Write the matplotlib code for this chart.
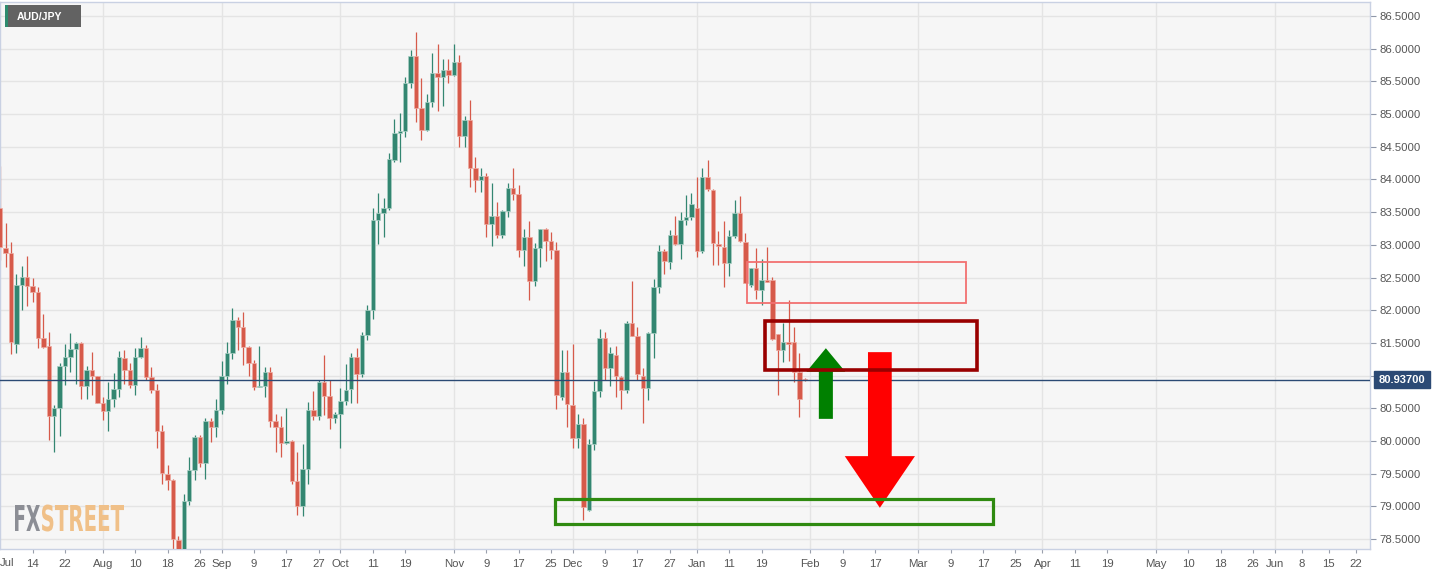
import matplotlib
matplotlib.use('Agg')
import matplotlib.pyplot as plt
import matplotlib.patches as mpatches
import matplotlib.transforms as mtransforms
from matplotlib.textpath import TextPath
from matplotlib.font_manager import FontProperties
import numpy as np
import pandas as pd

# daily AUD/JPY candles, first visible bar = 2021-07-06
first_day = '2021-07-06'
opens = [83.56, 82.96, 82.87, 81.48, 82.39, 82.51, 82.37, 82.28, 81.57, 81.46,
         80.38, 80.51, 81.15, 81.28, 81.41, 81.50, 80.85, 81.08, 80.99, 80.59,
         80.46, 80.65, 80.80, 81.27, 81.09, 80.86, 81.28, 81.43, 80.98, 80.78,
         80.15, 79.49, 79.41, 78.48, 78.10, 79.09, 79.56, 80.07, 79.67, 80.31,
         80.21, 80.48, 81.00, 81.35, 81.85, 81.74, 81.44, 81.20, 80.83, 80.85,
         81.05, 80.31, 80.21, 79.97, 80.00, 79.39, 79.00, 79.57, 80.48, 80.39,
         80.90, 80.69, 80.35, 80.42, 80.62, 80.80, 81.28, 81.02, 81.62, 82.01,
         83.38, 83.49, 83.57, 84.30, 84.71, 84.74, 85.47, 85.89, 85.10, 84.75,
         85.18, 85.63, 85.56, 85.68, 85.60, 85.80, 84.67, 84.91, 84.18, 83.99,
         84.05, 83.32, 83.44, 83.15, 83.52, 83.87, 83.78, 82.92, 83.12, 82.45,
         82.95, 83.24, 83.06, 82.92, 80.67, 81.05, 80.55, 80.04, 80.26, 78.95,
         79.96, 80.77, 81.57, 81.11, 81.32, 80.98, 80.78, 81.80, 81.61, 81.00,
         80.81, 81.65, 82.36, 82.91, 82.74, 83.15, 83.01, 83.38, 83.43, 83.56,
         82.91, 84.04, 83.84, 83.02, 82.97, 82.72, 83.13, 83.49, 83.05, 82.39,
         82.64, 82.31, 82.47, 82.46, 81.63, 81.39, 81.51, 81.51, 81.06, 80.94]
highs = [84.20, 83.34, 83.05, 82.56, 82.67, 82.83, 82.49, 82.35, 81.94, 81.67,
         80.55, 81.19, 81.48, 81.66, 81.51, 81.51, 81.15, 81.36, 81.00, 80.68,
         80.91, 81.04, 81.37, 81.40, 81.19, 81.42, 81.59, 81.47, 81.14, 80.88,
         80.24, 79.63, 79.42, 78.55, 79.19, 79.75, 80.09, 80.09, 80.35, 80.35,
         80.65, 81.23, 81.52, 82.03, 81.90, 81.98, 81.45, 81.24, 81.45, 81.14,
         81.14, 80.42, 80.38, 80.51, 80.02, 79.84, 79.96, 80.60, 80.77, 80.94,
         81.31, 80.93, 80.45, 80.81, 81.18, 81.34, 81.42, 81.67, 82.08, 83.56,
         83.80, 83.71, 84.40, 84.93, 85.02, 85.56, 85.98, 86.25, 85.55, 85.31,
         85.93, 86.07, 85.84, 85.84, 86.07, 85.91, 84.97, 85.22, 84.35, 84.17,
         84.10, 83.95, 83.66, 83.53, 83.94, 84.17, 83.92, 83.25, 83.37, 83.03,
         83.25, 83.26, 83.20, 83.05, 81.40, 81.40, 81.48, 80.42, 80.36, 80.03,
         80.92, 81.72, 81.67, 81.44, 81.45, 80.99, 81.83, 82.45, 81.75, 81.11,
         81.67, 82.48, 83.00, 82.93, 83.23, 83.44, 83.51, 83.76, 83.79, 84.04,
         84.17, 84.30, 83.85, 83.21, 83.37, 83.23, 83.68, 83.74, 83.18, 82.64,
         82.96, 82.79, 82.97, 82.51, 81.63, 81.80, 82.15, 81.75, 81.34, 80.96]
lows = [82.77, 82.66, 81.33, 81.34, 82.01, 82.06, 82.13, 81.43, 81.43, 80.02,
        79.84, 80.08, 80.86, 81.05, 80.88, 80.64, 80.64, 80.71, 80.58, 80.33,
        80.15, 80.52, 80.67, 80.88, 80.81, 80.71, 81.27, 80.94, 80.74, 79.89,
        79.35, 79.25, 78.30, 77.90, 78.00, 79.02, 79.41, 79.60, 79.42, 79.99,
        80.07, 80.42, 80.88, 81.25, 81.39, 81.16, 80.99, 80.78, 80.82, 80.68,
        80.22, 79.84, 79.76, 79.96, 79.35, 78.87, 78.86, 79.35, 80.32, 80.32,
        80.40, 80.18, 80.28, 79.90, 80.55, 80.58, 80.58, 80.98, 81.55, 81.86,
        83.01, 83.12, 83.53, 84.27, 84.27, 84.65, 85.40, 84.88, 84.61, 84.74,
        85.11, 85.04, 85.12, 85.48, 85.59, 84.49, 84.50, 83.89, 83.81, 83.81,
        83.12, 82.99, 83.10, 83.10, 83.43, 83.69, 82.82, 82.68, 82.15, 82.37,
        82.66, 82.76, 82.78, 80.49, 80.63, 80.22, 79.90, 79.90, 78.80, 78.93,
        79.86, 80.68, 80.93, 80.84, 80.68, 80.49, 80.73, 81.60, 80.94, 80.27,
        80.63, 81.27, 82.26, 82.55, 82.63, 83.00, 82.79, 83.31, 83.38, 82.82,
        82.87, 83.83, 82.69, 82.69, 82.35, 82.52, 83.10, 83.05, 82.41, 82.36,
        82.17, 82.08, 82.43, 81.55, 80.70, 81.21, 81.23, 80.91, 80.37, 80.92]
closes = [82.97, 82.88, 81.51, 82.39, 82.51, 82.37, 82.28, 81.57, 81.44, 80.38,
          80.51, 81.15, 81.28, 81.41, 81.50, 80.85, 81.08, 80.99, 80.59, 80.46,
          80.65, 80.80, 81.28, 81.09, 80.86, 81.28, 81.43, 80.98, 80.78, 80.15,
          79.51, 79.41, 78.50, 78.10, 79.09, 79.56, 80.07, 79.67, 80.31, 80.21,
          80.48, 81.00, 81.35, 81.85, 81.75, 81.44, 81.20, 80.83, 80.85, 81.05,
          80.31, 80.21, 79.97, 80.00, 79.39, 79.01, 79.57, 80.48, 80.39, 80.90,
          80.69, 80.35, 80.42, 80.62, 80.78, 81.28, 81.02, 81.62, 82.01, 83.38,
          83.49, 83.57, 84.31, 84.71, 84.74, 85.47, 85.89, 85.10, 84.75, 85.18,
          85.63, 85.56, 85.68, 85.60, 85.80, 84.67, 84.91, 84.18, 83.99, 84.05,
          83.32, 83.44, 83.15, 83.52, 83.87, 83.78, 82.92, 83.12, 82.45, 82.95,
          83.24, 83.06, 82.92, 80.71, 81.05, 80.57, 80.04, 80.26, 78.99, 79.96,
          80.77, 81.57, 81.11, 81.34, 80.99, 80.78, 81.80, 81.61, 81.03, 80.81,
          81.65, 82.36, 82.91, 82.76, 83.15, 83.01, 83.38, 83.43, 83.63, 82.91,
          84.04, 83.85, 83.03, 82.99, 82.72, 83.13, 83.49, 83.06, 82.41, 82.64,
          82.31, 82.47, 82.44, 81.56, 81.39, 81.51, 81.49, 81.06, 80.64, 80.937]

# x axis tick labels (dates + text)
tick_dates = ['2021-07-14', '2021-07-22', '2021-08-02', '2021-08-10', '2021-08-18',
              '2021-08-26', '2021-09-01', '2021-09-09', '2021-09-17', '2021-09-27',
              '2021-10-01', '2021-10-11', '2021-10-19', '2021-11-01', '2021-11-09',
              '2021-11-17', '2021-11-25', '2021-12-01', '2021-12-09', '2021-12-17',
              '2021-12-27', '2022-01-03', '2022-01-11', '2022-01-19', '2022-02-01',
              '2022-02-09', '2022-02-17', '2022-03-01', '2022-03-09', '2022-03-17',
              '2022-03-25', '2022-04-01', '2022-04-11', '2022-04-19', '2022-05-02',
              '2022-05-10', '2022-05-18', '2022-05-26', '2022-06-01', '2022-06-08',
              '2022-06-15', '2022-06-22']
tick_labels = ['14', '22', 'Aug', '10', '18', '26', 'Sep', '9', '17', '27',
               'Oct', '11', '19', 'Nov', '9', '17', '25', 'Dec', '9', '17',
               '27', 'Jan', '11', '19', 'Feb', '9', '17', 'Mar', '9', '17',
               '25', 'Apr', '11', '19', 'May', '10', '18', '26', 'Jun', '8',
               '15', '22']
y_ticks = [78.5, 79.0, 79.5, 80.0, 80.5, 81.0, 81.5, 82.0, 82.5, 83.0,
           83.5, 84.0, 84.5, 85.0, 85.5, 86.0, 86.5]

# zones drawn on the chart: (start bar, end bar, low, high)
pink_zone = (141.3, 181.9, 82.11, 82.74)
dark_zone = (144.6, 183.9, 81.08, 81.84)
green_zone = (105.7, 186.8, 78.73, 79.12)
# arrows: (center bar, tail price, head base price, tip price, shaft half, head half)
up_arrow = (155.9, 80.34, 81.06, 81.42, 1.3, 3.6)
down_arrow = (165.9, 81.36, 79.77, 78.98, 2.2, 6.5)

last_price = closes[-1]

# trading-day calendar -> bar positions
calendar = pd.bdate_range('2021-07-01', '2022-06-30')
dates = pd.bdate_range(first_day, periods=len(opens))
xs = calendar.get_indexer(dates)
tick_pos = calendar.get_indexer(pd.to_datetime(tick_dates))
month_starts = calendar.to_series().groupby(calendar.to_period('M')).first()
month_pos = calendar.get_indexer(pd.DatetimeIndex(month_starts.values))

W, H = 1441, 576
fig = plt.figure(figsize=(W / 100, H / 100), dpi=100)
fig.patch.set_facecolor('white')
ax = fig.add_axes([0, 27 / H, 1370 / W, 547 / H])
ax.set_facecolor('#f6f6f6')

up_c, dn_c = '#338671', '#d65a4a'
o = np.array(opens); c = np.array(closes)
hi = np.array(highs); lo = np.array(lows)
col = np.where(c >= o, up_c, dn_c)
edge = np.where(c >= o, '#a9cfc3', '#eeaaa1')

ax.vlines(xs, lo, hi, colors=col, linewidth=0.9, zorder=2)
body_h = np.maximum(np.abs(c - o), 0.02)
ax.bar(xs, body_h, bottom=np.minimum(o, c), width=0.8, color=col,
       edgecolor=edge, linewidth=0.5, zorder=3)

# grid
for v in y_ticks:
    ax.axhline(v, color='#e4e4e4', linewidth=1, zorder=0)
for m in month_pos:
    ax.axvline(m, color='#e4e4e4', linewidth=1, zorder=0)

# last price line
ax.axhline(last_price, color='#2b4a74', linewidth=1, zorder=4)

# arrows
def arrow_poly(cx, tail, base, tip, sh, hh, color):
    pts = [(cx - sh, tail), (cx - sh, base), (cx - hh, base), (cx, tip),
           (cx + hh, base), (cx + sh, base), (cx + sh, tail)]
    ax.add_patch(mpatches.Polygon(pts, closed=True, facecolor=color,
                                  edgecolor='none', zorder=5))

arrow_poly(*up_arrow, '#008000')
arrow_poly(*down_arrow, '#ff0000')

# zones
for (x0, x1, y0, y1), ec, lw in [(pink_zone, '#f27070', 1.3),
                                 (dark_zone, '#990000', 2.6),
                                 (green_zone, '#2f8a10', 2.3)]:
    ax.add_patch(mpatches.Rectangle((x0, y0), x1 - x0, y1 - y0, fill=False,
                                    edgecolor=ec, linewidth=lw, zorder=6))

ax.set_xlim(16 / 5.4, 1386 / 5.4)
ax.set_ylim(78.35, 86.714)

# axes look
for s in ax.spines.values():
    s.set_color('#c9d1e3')
    s.set_linewidth(1)
ax.yaxis.tick_right()
ax.set_yticks(y_ticks)
ax.set_yticklabels([f'{v:.4f}' if abs(v - last_price) > 0.1 else '' for v in y_ticks])
ax.tick_params(axis='y', direction='out', length=4, width=0.8, color='#8f97a8',
               labelsize=8.2, labelcolor='#555555', pad=3)
ax.set_xticks(tick_pos)
ax.set_xticklabels(tick_labels)
ax.tick_params(axis='x', direction='out', length=3, width=0.8, color='#9aa0ad',
               labelsize=8.2, labelcolor='#555555', pad=4)
for t in ax.get_xticklabels() + ax.get_yticklabels():
    t.set_fontfamily(['Liberation Sans', 'DejaVu Sans'])
ax.annotate('Jul', xy=(0, 0), xycoords='axes fraction', xytext=(0, -14),
            textcoords='offset pixels', ha='left', va='center', fontsize=8.2,
            color='#555555', family=['Liberation Sans', 'DejaVu Sans'],
            annotation_clip=False)

# price tag on the right axis
blend = mtransforms.blended_transform_factory(ax.transAxes, ax.transData)
ax.add_patch(mpatches.Rectangle((1374 / 1370, last_price - 8.5 / 65.4), 56 / 1370,
                                17 / 65.4, transform=blend, facecolor='#2c4a75',
                                edgecolor='#2c4a75', clip_on=False, zorder=7))
ax.text(1402 / 1370, last_price, f'{last_price:.5f}', transform=blend,
        ha='center', va='center', color='white', fontsize=8, fontweight='bold',
        family=['Liberation Sans', 'DejaVu Sans'], zorder=8, clip_on=False)

# AUD/JPY label box (figure pixels)
def fx(px): return px / W
def fy(py): return 1 - py / H
fig.add_artist(mpatches.Rectangle((fx(5), fy(27)), fx(76), 22 / H,
                                  transform=fig.transFigure, facecolor='#626262',
                                  edgecolor='none', zorder=10))
fig.add_artist(mpatches.Rectangle((fx(5), fy(27)), fx(3), 22 / H,
                                  transform=fig.transFigure, facecolor='#2e8b6e',
                                  edgecolor='none', zorder=11))
fig.text(fx(17), fy(16.5), 'AUD/JPY', color='white', fontsize=7.6,
         fontweight='bold', va='center', ha='left', zorder=12,
         family=['Liberation Sans', 'DejaVu Sans'])

# FXSTREET watermark, squeezed text paths
prop = FontProperties(family='DejaVu Sans', weight='bold')
def logo_part(txt, x0, x1, color):
    p = TextPath((0, 0), txt, size=1, prop=prop)
    ext = p.get_extents()
    cap = TextPath((0, 0), 'F', size=1, prop=prop).get_extents().height
    sx = (x1 - x0) / ext.width
    sy = 26 / cap
    tr = mtransforms.Affine2D().translate(-ext.x0, 0).scale(sx, sy).translate(x0, H - 531)
    fig.add_artist(mpatches.PathPatch(p, transform=tr, facecolor=color,
                                      edgecolor='none', zorder=9))

logo_part('FX', 15, 40, '#8c8e95')
logo_part('STREET', 42, 124, '#f0c088')

fig.savefig('out.png', dpi=100)
